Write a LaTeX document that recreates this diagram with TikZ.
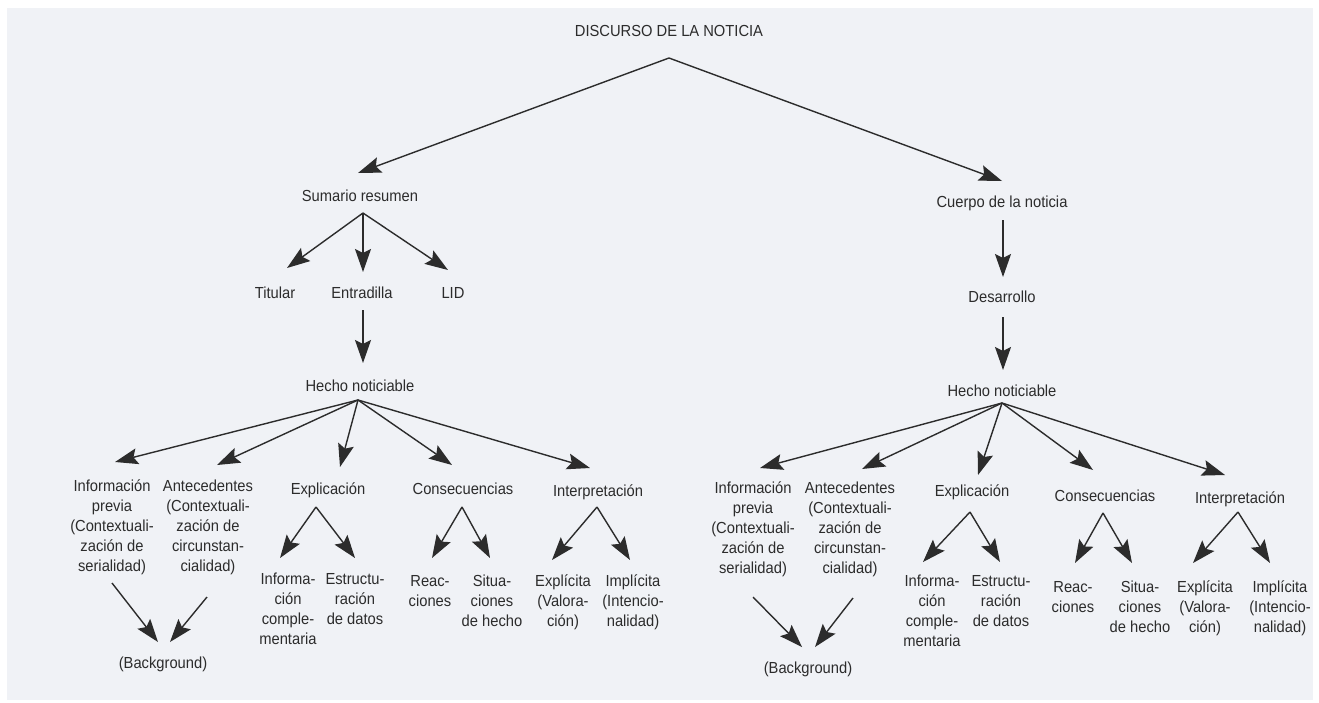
\documentclass[tikz,border=0pt]{standalone}
\usepackage{fontspec}
\setmainfont{Liberation Sans}[FakeStretch=0.92]
\usetikzlibrary{arrows.meta}
\definecolor{ink}{HTML}{2C2C2C}
\definecolor{paper}{HTML}{F0F2F6}
\tikzset{
  lbl/.style={inner sep=0pt, text=ink, font=\fontsize{16}{20}\selectfont, align=center},
  one/.style={lbl, anchor=base},
  multi/.style={lbl, anchor=north},
  arr/.style={draw=ink, line width=1.4pt, -{Stealth[length=23pt,width=16pt,inset=4pt]}},
}
\begin{document}
\begin{tikzpicture}[x=1pt,y=-1pt]
\useasboundingbox (0,0) rectangle (1319,702);
\fill[paper] (7,8) rectangle (1313,700);

% ---------- nodes ----------
\node[one] (title) at (669,36) {DISCURSO DE LA NOTICIA};
\node[one] (sum) at (360,201) {Sumario resumen};
\node[one] (cue) at (1002,207) {Cuerpo de la noticia};

\node[one] (tit) at (275,298) {Titular};
\node[one] (ent) at (362,298) {Entradilla};
\node[one] (lid) at (453,298) {LID};
\node[one] (hn1) at (360,391) {Hecho noticiable};

\node[one] (des) at (1002,302) {Desarrollo};
\node[one] (hn2) at (1002,396) {Hecho noticiable};

% left level 3
\node[multi] (ip1) at (112,480) {Información\\previa\\(Contextuali-\\zación de\\serialidad)};
\node[multi] (ant1) at (208,480) {Antecedentes\\(Contextuali-\\zación de\\circunstan-\\cialidad)};
\node[one] (exp1) at (328,494) {Explicación};
\node[one] (con1) at (463,494) {Consecuencias};
\node[one] (int1) at (598,496) {Interpretación};
% left level 4
\node[multi] (ic1) at (288,573) {Informa-\\ción\\comple-\\mentaria};
\node[multi] (ed1) at (355,573) {Estructu-\\ración\\de datos};
\node[multi] (rea1) at (430,575) {Reac-\\ciones};
\node[multi] (sit1) at (492,575) {Situa-\\ciones\\de hecho};
\node[multi] (exl1) at (563,575) {Explícita\\(Valora-\\ción)};
\node[multi] (iml1) at (633,575) {Implícita\\(Intencio-\\nalidad)};
\node[one] (bg1) at (163,668) {(Background)};

% right level 3
\node[multi] (ip2) at (753,482) {Información\\previa\\(Contextuali-\\zación de\\serialidad)};
\node[multi] (ant2) at (850,482) {Antecedentes\\(Contextuali-\\zación de\\circunstan-\\cialidad)};
\node[one] (exp2) at (972,496) {Explicación};
\node[one] (con2) at (1105,501) {Consecuencias};
\node[one] (int2) at (1240,503) {Interpretación};
% right level 4
\node[multi] (ic2) at (932,575) {Informa-\\ción\\comple-\\mentaria};
\node[multi] (ed2) at (1001,575) {Estructu-\\ración\\de datos};
\node[multi] (rea2) at (1073,581) {Reac-\\ciones};
\node[multi] (sit2) at (1140,581) {Situa-\\ciones\\de hecho};
\node[multi] (exl2) at (1205,581) {Explícita\\(Valora-\\ción)};
\node[multi] (iml2) at (1280,581) {Implícita\\(Intencio-\\nalidad)};
\node[one] (bg2) at (808,673) {(Background)};

% ---------- connector end points ----------
\coordinate (title-s) at (669,58);
\coordinate (sum-in) at (358,173);
\coordinate (cue-in) at (1002,181);

\coordinate (sum-s) at (363,213);
\coordinate (tit-in) at (287,268);
\coordinate (ent-in) at (363,272);
\coordinate (lid-in) at (448,270);
\coordinate (ent-s) at (363,310);
\coordinate (hn1-in) at (363,363);

\coordinate (cue-s) at (1003,220);
\coordinate (des-in) at (1003,277);
\coordinate (des-s) at (1003,317);
\coordinate (hn2-in) at (1003,370);

\coordinate (hn1-s) at (358,400);
\coordinate (ip1-in) at (115,462);
\coordinate (ant1-in) at (217,465);
\coordinate (exp1-in) at (340,467);
\coordinate (con1-in) at (452,465);
\coordinate (int1-in) at (590,468);

\coordinate (exp1-s) at (316,507);
\coordinate (ic1-in) at (280,558);
\coordinate (ed1-in) at (355,558);
\coordinate (con1-s) at (462,507);
\coordinate (rea1-in) at (432,558);
\coordinate (sit1-in) at (490,558);
\coordinate (int1-s) at (597,507);
\coordinate (exl1-in) at (552,560);
\coordinate (iml1-in) at (630,560);
\coordinate (ip1-s) at (112,583);
\coordinate (ant1-s) at (207,597);
\coordinate (bg1-inl) at (158,642);
\coordinate (bg1-inr) at (170,642);

\coordinate (hn2-s) at (1002,403);
\coordinate (ip2-in) at (760,468);
\coordinate (ant2-in) at (862,469);
\coordinate (exp2-in) at (978,475);
\coordinate (con2-in) at (1093,470);
\coordinate (int2-in) at (1225,475);

\coordinate (exp2-s) at (970,512);
\coordinate (ic2-in) at (923,562);
\coordinate (ed2-in) at (1000,562);
\coordinate (con2-s) at (1103,513);
\coordinate (rea2-in) at (1075,563);
\coordinate (sit2-in) at (1132,563);
\coordinate (int2-s) at (1238,512);
\coordinate (exl2-in) at (1193,563);
\coordinate (iml2-in) at (1270,563);
\coordinate (ip2-s) at (753,597);
\coordinate (ant2-s) at (853,598);
\coordinate (bg2-inl) at (802,647);
\coordinate (bg2-inr) at (815,647);

% ---------- connectors ----------
\draw[arr] (title-s) -- (sum-in);
\draw[arr] (title-s) -- (cue-in);

\draw[arr] (sum-s) -- (tit-in);
\draw[arr] (sum-s) -- (ent-in);
\draw[arr] (sum-s) -- (lid-in);
\draw[arr] (ent-s) -- (hn1-in);

\draw[arr] (cue-s) -- (des-in);
\draw[arr] (des-s) -- (hn2-in);

\foreach \t in {ip1,ant1,exp1,con1,int1} \draw[arr] (hn1-s) -- (\t-in);
\draw[arr] (exp1-s) -- (ic1-in);
\draw[arr] (exp1-s) -- (ed1-in);
\draw[arr] (con1-s) -- (rea1-in);
\draw[arr] (con1-s) -- (sit1-in);
\draw[arr] (int1-s) -- (exl1-in);
\draw[arr] (int1-s) -- (iml1-in);
\draw[arr] (ip1-s) -- (bg1-inl);
\draw[arr] (ant1-s) -- (bg1-inr);

\foreach \t in {ip2,ant2,exp2,con2,int2} \draw[arr] (hn2-s) -- (\t-in);
\draw[arr] (exp2-s) -- (ic2-in);
\draw[arr] (exp2-s) -- (ed2-in);
\draw[arr] (con2-s) -- (rea2-in);
\draw[arr] (con2-s) -- (sit2-in);
\draw[arr] (int2-s) -- (exl2-in);
\draw[arr] (int2-s) -- (iml2-in);
\draw[arr] (ip2-s) -- (bg2-inl);
\draw[arr] (ant2-s) -- (bg2-inr);
\end{tikzpicture}
\end{document}
